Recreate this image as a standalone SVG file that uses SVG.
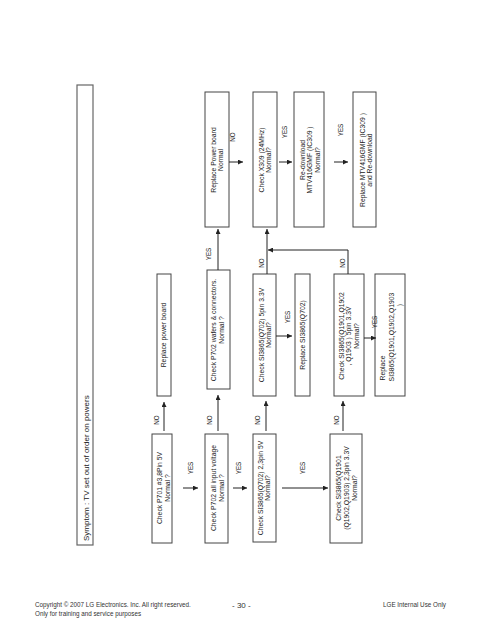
<svg xmlns="http://www.w3.org/2000/svg" width="495" height="640" viewBox="0 0 495 640">
<style>
.bx{fill:#fff;stroke:#444;stroke-width:1}
.sb{fill:#fff;stroke:#666;stroke-width:1.2}
.t{font-family:"Liberation Sans",Arial,sans-serif;font-size:6.8px;fill:#222;text-anchor:middle}
.st{font-family:"Liberation Sans",Arial,sans-serif;font-size:8px;fill:#222}
.lb{font-family:"Liberation Sans",Arial,sans-serif;font-size:6.3px;fill:#222;text-anchor:middle}
.ft{font-family:"Liberation Sans",Arial,sans-serif;font-size:6.3px;fill:#333}
.c{fill:none;stroke:#222;stroke-width:1}
.ca{fill:none;stroke:#222;stroke-width:1;marker-end:url(#ah)}
</style>
<defs>
<marker id="ah" viewBox="0 0 6 6" refX="6" refY="3" markerWidth="5" markerHeight="5" orient="auto" markerUnits="userSpaceOnUse">
<path d="M0,0 L6,3 L0,6 z" fill="#222"/>
</marker>
</defs>
<rect width="495" height="640" fill="#fff"/>

<g id="symptom">
<rect class="sb" x="77" y="85" width="16" height="460"/>
<text class="st" transform="translate(88.5,541) rotate(-90)">Symptom : TV set out of order on powers</text>
</g>

<g id="n_p701">
<rect class="bx" x="152" y="434" width="20" height="109"/>
<text class="t" transform="translate(162.4,488) rotate(-90)"><tspan x="0">Check P701 #3,8Pin 5V</tspan><tspan x="0" dy="7.2">Normal ?</tspan></text>
</g>

<g id="n_replace_power">
<rect class="bx" x="157" y="274" width="14" height="122"/>
<text class="t" transform="translate(166.4,335) rotate(-90)">Replace power board</text>
</g>

<g id="n_p702_input">
<rect class="bx" x="205" y="434" width="23" height="109"/>
<text class="t" transform="translate(216.4,488) rotate(-90)"><tspan x="0">Check P702 all input voltage</tspan><tspan x="0" dy="7.6">Normal ?</tspan></text>
</g>

<g id="n_p702_wafers">
<rect class="bx" x="207" y="270" width="23" height="119"/>
<text class="t" transform="translate(216.4,330) rotate(-90)"><tspan x="0">Check P702  wafers &amp; connectors.</tspan><tspan x="0" dy="7.6">Normal ?</tspan></text>
</g>

<g id="n_replace_power_normal">
<rect class="bx" x="205" y="92" width="24" height="135"/>
<text class="t" transform="translate(215.5,160) rotate(-90)"><tspan x="0">Replace Power board</tspan><tspan x="0" dy="7.8">Normal</tspan></text>
</g>

<g id="n_x309">
<rect class="bx" x="253" y="92" width="24" height="135"/>
<text class="t" transform="translate(263.5,160) rotate(-90)"><tspan x="0">Check X309 (24MHz)</tspan><tspan x="0" dy="7.8">Normal?</tspan></text>
</g>

<g id="n_redownload">
<rect class="bx" x="294" y="92" width="30" height="135"/>
<text class="t" transform="translate(304.5,160) rotate(-90)"><tspan x="0">Re-download</tspan><tspan x="0" dy="7.8">MTV416GMF (IC309 )</tspan><tspan x="0" dy="7.8">Normal?</tspan></text>
</g>

<g id="n_replace_mtv">
<rect class="bx" x="353" y="92" width="23" height="135"/>
<text class="t" transform="translate(364.5,160) rotate(-90)"><tspan x="0">Replace MTV416GMF (IC309 )</tspan><tspan x="0" dy="7.2">and Re-download</tspan></text>
</g>

<g id="n_q702_5v">
<rect class="bx" x="253" y="434" width="23" height="108"/>
<text class="t" transform="translate(262.5,488) rotate(-90)"><tspan x="0">Check SI3865(Q702) 2,3pin 5V</tspan><tspan x="0" dy="7.2">Normal?</tspan></text>
</g>

<g id="n_q702_33v">
<rect class="bx" x="253" y="274" width="23" height="122"/>
<text class="t" transform="translate(263.5,335) rotate(-90)"><tspan x="0">Check SI3865(Q702) 5pin 3.3V</tspan><tspan x="0" dy="7.2">Normal?</tspan></text>
</g>

<g id="n_replace_q702">
<rect class="bx" x="295" y="274" width="15" height="122"/>
<text class="t" transform="translate(305.4,335) rotate(-90)">Replace SI3865(Q702)</text>
</g>

<g id="n_q1901_23">
<rect class="bx" x="330" y="434" width="32" height="109"/>
<text class="t" transform="translate(340.5,488) rotate(-90)"><tspan x="0">Check SI3865(Q1901</tspan><tspan x="0" dy="8">(Q1902,Q1903)  2,3pin 3.3V</tspan><tspan x="0" dy="8">Normal?</tspan></text>
</g>

<g id="n_q1901_5">
<rect class="bx" x="334" y="274" width="30" height="122"/>
<text class="t" transform="translate(343.5,336) rotate(-90)"><tspan x="0">Check SI3865(Q1901,Q1902</tspan><tspan x="0" dy="7.6">, Q1903 )  5pin 3.3V</tspan><tspan x="0" dy="7.6">Normal?</tspan></text>
</g>

<g id="n_replace_q1901">
<rect class="bx" x="375" y="274" width="30" height="122"/>
<text class="t" transform="translate(385.4,368) rotate(-90)">Replace</text>
<text class="t" transform="translate(394.4,337) rotate(-90)">SI3865(Q1901,Q1902,Q1903</text>
<text class="t" transform="translate(402.4,305) rotate(-90)">)</text>
</g>

<g id="connectors">
<line class="ca" x1="164" y1="431" x2="164" y2="402"/>
<line class="ca" x1="218" y1="431" x2="218" y2="395"/>
<line class="ca" x1="266" y1="431" x2="266" y2="401"/>
<line class="ca" x1="343" y1="431" x2="343" y2="401"/>
<line class="ca" x1="183" y1="488" x2="198" y2="488"/>
<line class="ca" x1="233" y1="488" x2="247" y2="488"/>
<line class="ca" x1="282" y1="488" x2="328" y2="488"/>
<line class="ca" x1="218" y1="270" x2="218" y2="229"/>
<line class="ca" x1="229" y1="162" x2="243" y2="162"/>
<line class="ca" x1="279" y1="162" x2="292" y2="162"/>
<line class="ca" x1="334" y1="162" x2="348" y2="162"/>
<line class="ca" x1="267" y1="274" x2="267" y2="229"/>
<polyline class="ca" points="348,274 348,250 268,250"/>
<line class="ca" x1="364" y1="338" x2="376" y2="338"/>
<line class="ca" x1="276" y1="336" x2="292" y2="336"/>
<g class="lb">
<text transform="translate(159.3,420) rotate(-90)">NO</text>
<text transform="translate(212.3,420) rotate(-90)">NO</text>
<text transform="translate(260.3,420) rotate(-90)">NO</text>
<text transform="translate(339.3,420) rotate(-90)">NO</text>
<text transform="translate(235.3,137) rotate(-90)">NO</text>
<text transform="translate(264.3,263) rotate(-90)">NO</text>
<text transform="translate(345.3,263) rotate(-90)">NO</text>
<text transform="translate(193.3,468) rotate(-90)">YES</text>
<text transform="translate(241.3,468) rotate(-90)">YES</text>
<text transform="translate(305.3,468) rotate(-90)">YES</text>
<text transform="translate(211.3,254) rotate(-90)">YES</text>
<text transform="translate(287.3,132) rotate(-90)">YES</text>
<text transform="translate(343.3,130) rotate(-90)">YES</text>
<text transform="translate(290.3,317) rotate(-90)">YES</text>
<text transform="translate(377.3,322) rotate(-90)">YES</text>
</g>
</g>

<g id="footer">
<text class="ft" x="35" y="607">Copyright © 2007 LG Electronics. Inc. All right reserved.</text>
<text class="ft" x="35" y="615.5">Only for training and service purposes</text>
<text class="ft" x="232" y="608" style="font-size:8px">- 30 -</text>
<text class="ft" x="383" y="607">LGE Internal Use Only</text>
</g>
</svg>
